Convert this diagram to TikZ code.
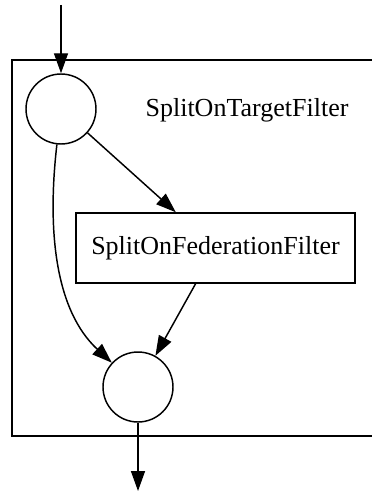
\documentclass[tikz,border=0pt]{standalone}
\usepackage{fontspec}
\setmainfont{Liberation Serif}
\usetikzlibrary{arrows.meta}

\begin{document}
\begin{tikzpicture}[x=0.75pt,y=-0.75pt,
    every node/.style={font=\fontsize{19.5pt}{23pt}\selectfont},
    point/.style={draw, circle, line width=1.1pt, minimum size=52.5pt, inner sep=0pt},
    filter/.style={draw, rectangle, line width=1.1pt, minimum width=209pt, minimum height=52.5pt, inner sep=0pt},
    edge/.style={line width=1.1pt, -{Triangle[length=15pt,width=10.5pt]}}]
  \useasboundingbox (0,0) rectangle (371,492);

  % cluster
  \draw[line width=1.1pt] (380,60) -- (12,60) -- (12,436) -- (380,436);
  \node (title) at (247,110) {SplitOnTargetFilter};

  \coordinate (in) at (61,5);
  \node[point] (split) at (61,109) {};
  \node[filter] (fed) at (215.5,248) {SplitOnFederationFilter};
  \node[point] (join) at (138,387) {};
  \coordinate (out) at (138,491);

  \draw[edge] (in) -- (split);
  \draw[edge] (split) -- (fed);
  \draw[edge] (split) .. controls (47,230) and (55,310) .. (join);
  \draw[edge] (fed) -- (join);
  \draw[edge] (join) -- (out);
\end{tikzpicture}
\end{document}
